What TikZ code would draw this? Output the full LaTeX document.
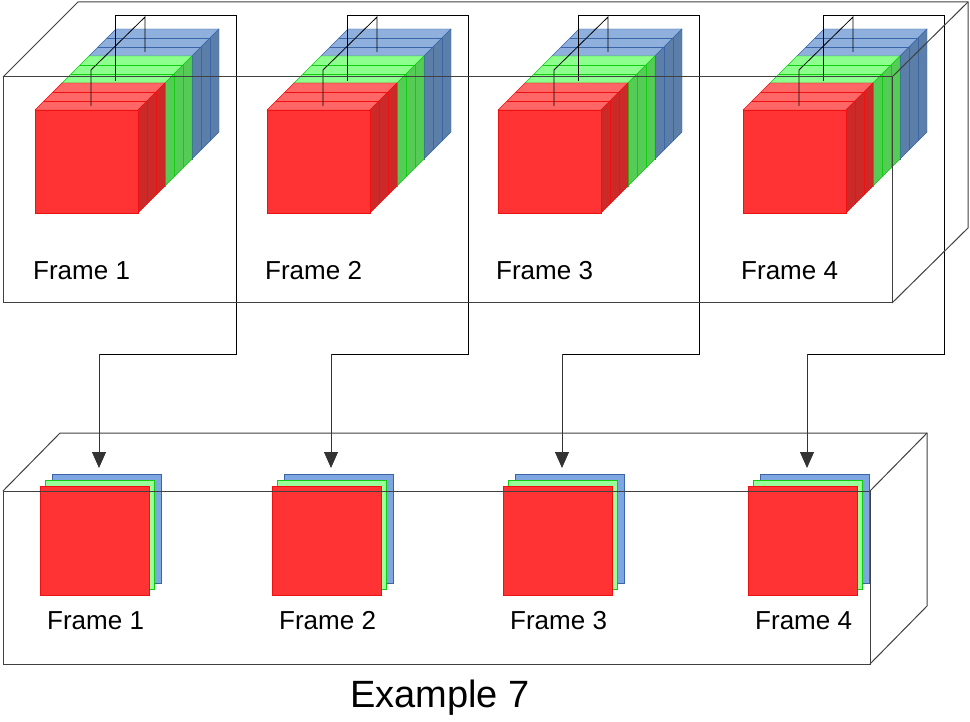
\documentclass[tikz,border=0pt]{standalone}
\usepackage{fontspec}
\setmainfont{Liberation Sans}
\usetikzlibrary{arrows.meta}

\definecolor{redF}{HTML}{FF3333}
\definecolor{redT}{HTML}{FF6666}
\definecolor{redS}{HTML}{CC2929}
\definecolor{redL}{HTML}{EE1111}
\definecolor{grnF}{HTML}{99FF99}
\definecolor{grnT}{HTML}{8CFF8C}
\definecolor{grnS}{HTML}{55CC55}
\definecolor{grnL}{HTML}{11CC11}
\definecolor{bluF}{HTML}{7EA6E0}
\definecolor{bluT}{HTML}{8FB0DC}
\definecolor{bluS}{HTML}{5B7FA8}
\definecolor{bluL}{HTML}{3A66A8}

\tikzset{
  box/.style={draw=black!75, line width=1pt},
  wire/.style={draw=black, line width=0.8pt},
  arr/.style={wire, -{Triangle[width=14pt,length=16pt]}, draw=black!80},
  lbl/.style={font=\fontsize{26}{30}\selectfont, inner sep=0pt},
}

% one colour layer of a frame cube: #1 front colour, #2 top, #3 side, #4 line
\newcommand{\layer}[4]{%
  \filldraw[fill=#2, draw=#4] (0,0) -- (27,-27) -- (130,-27) -- (103,0) -- cycle;
  \draw[#4] (9,-9) -- (112,-9) (18,-18) -- (121,-18);
  \filldraw[fill=#3, draw=#4] (103,0) -- (130,-27) -- (130,76) -- (103,103) -- cycle;
  \draw[#4] (112,-9) -- (112,94) (121,-18) -- (121,85);
  \filldraw[fill=#1, draw=#4] (0,0) rectangle (103,103);
}

\begin{document}
\begin{tikzpicture}[x=1pt,y=-1pt]
\useasboundingbox (0,0) rectangle (970,722);

\foreach \i/\X in {1/35,2/267,3/498,4/743} {
  % stacked colour cubes
  \begin{scope}[shift={(\X+54,56)}] \layer{bluF}{bluT}{bluS}{bluL} \end{scope}
  \begin{scope}[shift={(\X+27,83)}] \layer{grnF}{grnT}{grnS}{grnL} \end{scope}
  \begin{scope}[shift={(\X,110)}] \layer{redF}{redT}{redS}{redL} \end{scope}
  \node[lbl, anchor=west] (ft\i) at (\X-2,271) {Frame \i};

  % flat frames
  \node[fill=bluF, draw=bluL, minimum size=109pt, inner sep=0pt, anchor=north west] (sb\i) at (\X+17,474) {};
  \node[fill=grnF, draw=grnL, minimum size=109pt, inner sep=0pt, anchor=north west] (sg\i) at (\X+10,480) {};
  \node[fill=redF, draw=redL, minimum size=109pt, inner sep=0pt, anchor=north west] (sr\i) at (\X+5,486) {};
  \node[lbl, anchor=west] (fb\i) at (\X+12,621) {Frame \i};

  % wiring
  \coordinate (w\i a) at (\X+110,52);
  \coordinate (w\i b) at (\X+110,17);
  \coordinate (w\i c) at (\X+56,70);
  \coordinate (w\i d) at (\X+56,106);
  \draw[wire] (w\i a) -- (w\i b) -- (w\i c) -- (w\i d);
  \coordinate (p\i) at (\X+80,81);
  \coordinate (q\i) at (\X+64,468);
  \draw[wire] (p\i) |- (\X+201,15) |- (\X+64,354) coordinate (r\i);
  \draw[arr] (r\i) -- (q\i);
}

% top container
\coordinate (ta) at (3,77);
\coordinate (tb) at (892,303);
\draw[box] (ta) rectangle (tb);
\draw[box] (ta) -- ++(75,-75) -- (968,2) -- (968,228) -- (tb);
\draw[box] (892,77) -- (968,2);

% bottom container
\coordinate (ba) at (3,491);
\coordinate (bb) at (870,664);
\draw[box] (ba) rectangle (bb);
\draw[box] (ba) -- ++(57,-58) -- (927,433) -- (927,606) -- (bb);
\draw[box] (870,491) -- (927,433);

\node[font=\fontsize{38}{44}\selectfont] (title) at (440,698) {Example 7};
\end{tikzpicture}
\end{document}
